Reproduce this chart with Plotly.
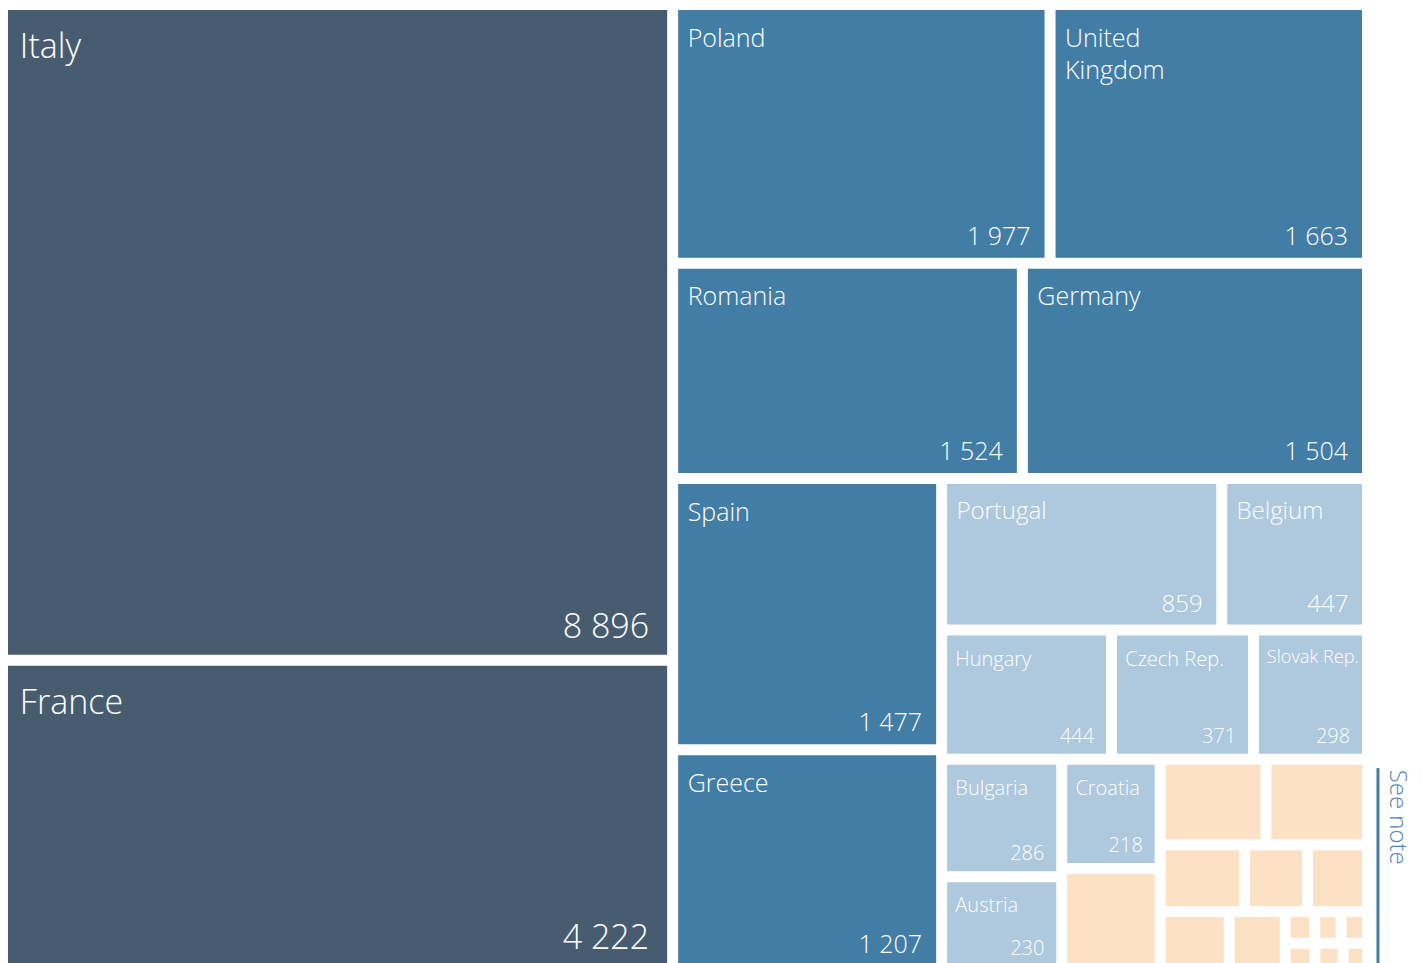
import plotly.graph_objects as go

# countries with their totals, largest first
countries = ["Italy", "France", "Poland", "United Kingdom", "Romania", "Germany",
             "Spain", "Greece", "Portugal", "Belgium", "Hungary", "Czech Rep.",
             "Slovak Rep.", "Bulgaria", "Austria", "Croatia"]
values = [8896, 4222, 1977, 1663, 1524, 1504, 1477, 1207, 859, 447, 444, 371,
          298, 286, 230, 218]
tiers = [1, 1, 2, 2, 2, 2, 2, 2, 3, 3, 3, 3, 3, 3, 3, 3]

# remaining countries, grouped under "See note" (no labels in the chart)
note_ids = ["n%d" % i for i in range(1, 15)]
note_values = [205, 183, 176, 114, 85, 81, 84, 68, 19, 17, 17, 17, 16, 14]

# nesting of the tiles; each level alternates between rows and columns
blocks = [
    ["Italy", "France"],
    [
        ["Poland", "United Kingdom"],
        ["Romania", "Germany"],
        [
            ["Spain", "Greece"],
            [
                ["Portugal", "Belgium"],
                ["Hungary", "Czech Rep.", "Slovak Rep."],
                [
                    ["Bulgaria", "Austria"],
                    ["Croatia", "n1"],
                    [
                        ["n2", "n3"],
                        ["n4", "n5", "n6"],
                        ["n7", "n8", [["n9", "n10", "n11"], ["n12", "n13", "n14"]]],
                    ],
                ],
            ],
        ],
    ],
]

tier_colors = {1: "#485c70", 2: "#427da6", 3: "#aec8de"}
note_color = "#fce1c5"
font = "Open Sans"
nb = "\u00a0"

value_of = dict(zip(countries + note_ids, values + note_values))
tier_of = dict(zip(countries, tiers))


def label_size(name):
    t = tier_of[name]
    if t == 1:
        return 34
    if t == 2:
        return 25
    return 24 if value_of[name] > 445 else 20


def label_text(name):
    # a hair-thin first line keeps the label a little below the tile edge
    spacer = "<span style='font-size:1px'>" + nb + "</span><br>"
    return spacer + nb + name.replace("United ", "United<br>" + nb)


def value_text(name):
    num = "{:,}".format(value_of[name]).replace(",", " ")
    return num + nb + "<sub>" + nb + "</sub>"


ids, parents, vals, colors, names, nums, sizes = [], [], [], [], [], [], []


def add(node, parent):
    if isinstance(node, list):
        gid = "g%d" % len(ids)
        ids.append(gid)
        parents.append(parent)
        vals.append(0)
        colors.append("rgba(0,0,0,0)")
        names.append("")
        nums.append("")
        sizes.append(12)
        for child in node:
            add(child, gid)
        return
    ids.append(node)
    parents.append(parent)
    vals.append(value_of[node])
    if node in tier_of:
        colors.append(tier_colors[tier_of[node]])
        names.append(label_text(node))
        nums.append(value_text(node))
        sizes.append(label_size(node))
    else:
        colors.append(note_color)
        names.append("")
        nums.append("")
        sizes.append(12)


add(blocks, "")

common = dict(
    ids=ids, labels=ids, parents=parents, values=vals, sort=False,
    branchvalues="remainder",
    tiling=dict(packing="slice-dice", pad=11),
    pathbar=dict(visible=False),
    hoverinfo="skip",
    texttemplate="%{text}",
)

fig = go.Figure()
fig.add_trace(go.Treemap(
    **common,
    text=names,
    textposition="top left",
    textfont=dict(family=font, size=sizes, color="white", weight=300),
    marker=dict(colors=colors, line=dict(width=0), cornerradius=3,
                pad=dict(t=0, l=0, r=0, b=0)),
))
fig.add_trace(go.Treemap(
    **common,
    text=nums,
    textposition="bottom right",
    textfont=dict(family=font, size=sizes, color="white", weight=300),
    marker=dict(colors=["rgba(0,0,0,0)"] * len(ids), line=dict(width=0),
                pad=dict(t=0, l=0, r=0, b=0)),
))

# "See note" bracket on the right of the small countries
fig.add_shape(type="line", xref="paper", yref="paper", x0=1.0118, x1=1.0118,
              y0=0.207, y1=-0.02, line=dict(color="#427da6", width=3))
fig.add_annotation(text="See note", xref="paper", yref="paper", x=1.0273, y=0.207,
                   xanchor="center", yanchor="top", textangle=90, showarrow=False,
                   font=dict(family=font, size=24, color="#4f86b0", weight=300))

fig.update_layout(
    width=1414, height=958,
    margin=dict(l=0, r=60, t=2, b=0),
    paper_bgcolor="white",
    showlegend=False,
)

fig.write_html("out.html")
